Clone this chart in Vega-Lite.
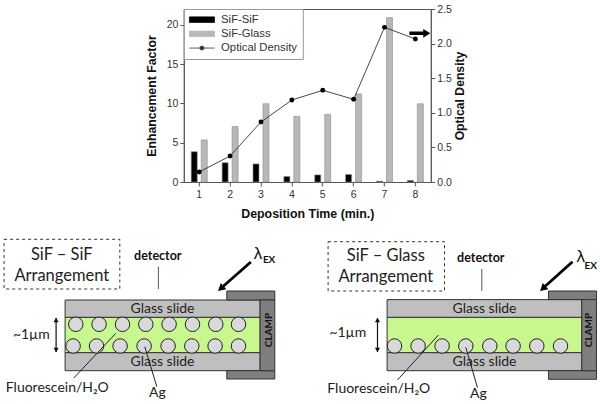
{
"$schema":"https://vega.github.io/schema/vega-lite/v6.json",
"padding":{"left":2.8,"top":3,"right":0,"bottom":0},
"background":"white",
"bounds":"flush",
"spacing":0,
"config":{"font":"Liberation Sans","view":{"stroke":null},"concat":{"spacing":0}},
"datasets":{
"bars":[
{"t":1,"series":"SiF-SiF","value":3.85},{"t":2,"series":"SiF-SiF","value":2.45},{"t":3,"series":"SiF-SiF","value":2.3},{"t":4,"series":"SiF-SiF","value":0.7},{"t":5,"series":"SiF-SiF","value":0.9},{"t":6,"series":"SiF-SiF","value":0.95},{"t":7,"series":"SiF-SiF","value":0.1},{"t":8,"series":"SiF-SiF","value":0.2},
{"t":1,"series":"SiF-Glass","value":5.35},{"t":2,"series":"SiF-Glass","value":7.05},{"t":3,"series":"SiF-Glass","value":9.95},{"t":4,"series":"SiF-Glass","value":8.35},{"t":5,"series":"SiF-Glass","value":8.6},{"t":6,"series":"SiF-Glass","value":11.2},{"t":7,"series":"SiF-Glass","value":20.9},{"t":8,"series":"SiF-Glass","value":9.95}],
"od":[{"t":1,"od":0.145},{"t":2,"od":0.376},{"t":3,"od":0.867},{"t":4,"od":1.185},{"t":5,"od":1.325},{"t":6,"od":1.195},{"t":7,"od":2.235},{"t":8,"od":2.067}],
"marker":[{"t":8,"od":2.149}],
"regions":[
{"part":"water","x":64.3,"x2":259.3,"y":317.3,"y2":352.7},
{"part":"glass","x":64.3,"x2":259.3,"y":300,"y2":317.3},
{"part":"glass","x":64.3,"x2":259.3,"y":352.7,"y2":370.7},
{"part":"clamp","x":226,"x2":274,"y":291,"y2":300},
{"part":"clamp","x":226,"x2":274,"y":370.7,"y2":379},
{"part":"clamp","x":259.3,"x2":274,"y":300,"y2":370.7},
{"part":"water","x":386.3,"x2":581,"y":317.3,"y2":352.7},
{"part":"glass","x":386.3,"x2":581,"y":299.6,"y2":317.3},
{"part":"glass","x":386.3,"x2":581,"y":352.7,"y2":370.7},
{"part":"clamp","x":547.7,"x2":595.7,"y":291,"y2":299.6},
{"part":"clamp","x":547.7,"x2":595.7,"y":370.7,"y2":379.3},
{"part":"clamp","x":581,"x2":595.7,"y":299.6,"y2":370.7}],
"boxes":[{"x":3.3,"x2":119,"y":239.3,"y2":289},{"x":327.3,"x2":443.7,"y":241.7,"y2":291}],
"silver":[
{"x":75,"y":324.3},{"x":98.3,"y":324.3},{"x":121.7,"y":324.3},{"x":145,"y":324.3},{"x":168.3,"y":324.3},{"x":191.7,"y":324.3},{"x":215,"y":324.3},{"x":237.7,"y":324.3},
{"x":72.3,"y":346},{"x":95.7,"y":346},{"x":119.3,"y":346},{"x":143.3,"y":346},{"x":167.3,"y":346},{"x":191,"y":346},{"x":214.3,"y":346},{"x":237.7,"y":346},
{"x":393.7,"y":346},{"x":417.3,"y":346},{"x":441.3,"y":346},{"x":465,"y":346},{"x":489,"y":346},{"x":512.3,"y":346},{"x":536,"y":346},{"x":559.7,"y":346}],
"links":[
{"kind":"leader","x":115,"x2":73,"y":333.3,"y2":378},
{"kind":"leader","x":144,"x2":156,"y":346.7,"y2":386.7},
{"kind":"leader","x":437.7,"x2":396.7,"y":335,"y2":380},
{"kind":"leader","x":465,"x2":476.7,"y":347.3,"y2":387.7},
{"kind":"detector","x":157.6,"x2":157.6,"y":266.7,"y2":289},
{"kind":"detector","x":481,"x2":481,"y":269,"y2":291},
{"kind":"gap","x":55.3,"x2":55.3,"y":318,"y2":352},
{"kind":"gap","x":376.7,"x2":376.7,"y":318,"y2":352},
{"kind":"beam","x":250,"x2":221,"y":262,"y2":287.5},
{"kind":"beam","x":571.7,"x2":543,"y":261.7,"y2":287.5}],
"heads":[
{"kind":"gap","x":55.3,"y":320,"angle":0},{"kind":"gap","x":55.3,"y":350,"angle":180},
{"kind":"gap","x":376.7,"y":320,"angle":0},{"kind":"gap","x":376.7,"y":350,"angle":180},
{"kind":"beam","x":220,"y":288.5,"angle":229},{"kind":"beam","x":542,"y":288.5,"angle":229}],
"labels":[
{"role":"title","text":"SiF – SiF","x":61,"y":255},
{"role":"title","text":"Arrangement","x":61,"y":276},
{"role":"title","text":"SiF – Glass","x":385,"y":256},
{"role":"title","text":"Arrangement","x":385,"y":276.7},
{"role":"detector","text":"detector","x":157,"y":256},
{"role":"detector","text":"detector","x":480,"y":257.7},
{"role":"slide","text":"Glass slide","x":161.7,"y":309},
{"role":"slide","text":"Glass slide","x":161.7,"y":362},
{"role":"slide","text":"Glass slide","x":483.7,"y":309.3},
{"role":"slide","text":"Glass slide","x":483.7,"y":361.7},
{"role":"slide","text":"~1µm","x":30.5,"y":335},
{"role":"slide","text":"~1µm","x":347,"y":333},
{"role":"slide","text":"Fluorescein/H₂O","x":56.5,"y":387.7},
{"role":"slide","text":"Fluorescein/H₂O","x":378,"y":389},
{"role":"slide","text":"Ag","x":156.7,"y":393},
{"role":"slide","text":"Ag","x":477.7,"y":394},
{"role":"lambda","text":"λ","x":257.3,"y":254},
{"role":"lambda","text":"λ","x":580,"y":256.7},
{"role":"ex","text":"EX","x":268.3,"y":260},
{"role":"ex","text":"EX","x":590,"y":265.7},
{"role":"clamp","text":"CLAMP","x":268,"y":330},
{"role":"clamp","text":"CLAMP","x":588.3,"y":330}]
},
"vconcat":[
 {"width":247,"height":173,
  "view":{"stroke":"#555555"},
  "encoding":{"x":{"field":"t","type":"ordinal","scale":{"padding":0},"axis":{"title":"Deposition Time (min.)","labelAngle":0,"labelFontSize":10.5,"labelColor":"#333333","titleFontSize":12.4,"titleFontWeight":"bold","titleColor":"#111111","titlePadding":8,"tickColor":"#555555","domainColor":"#555555","tickSize":4,"labelPadding":3}}},
  "layer":[
   {"data":{"name":"bars"},
    "mark":{"type":"bar","stroke":"#8a8a8a","strokeWidth":0.6},
    "encoding":{
     "xOffset":{"field":"series","type":"nominal","sort":["SiF-SiF","SiF-Glass"],"scale":{"domain":["SiF-SiF","SiF-Glass"],"paddingInner":0.4,"paddingOuter":0.745}},
     "y":{"field":"value","type":"quantitative","scale":{"domain":[0,22],"nice":false},"axis":{"title":"Enhancement Factor","values":[0,5,10,15,20],"grid":false,"labelFontSize":10.5,"labelColor":"#333333","titleFontSize":12.3,"titleFontWeight":"bold","titleColor":"#111111","titlePadding":8,"tickColor":"#555555","domainColor":"#555555","tickSize":4}},
     "color":{"field":"series","type":"nominal","scale":{"domain":["SiF-SiF","SiF-Glass","Optical Density"],"range":["#000000","#b8b8b8","#333333"]},
      "legend":{"title":null,"orient":"none","legendX":0,"legendY":0,"fillColor":"white","strokeColor":"#999999","padding":5,"symbolSize":100,"labelFontSize":11.3,"labelColor":"#333333","labelOffset":21,"rowPadding":2.2,
       "encoding":{"symbols":{
        "shape":{"value":{"expr":"datum.value==='Optical Density' ? 'M-1,0H4M1.1,0A0.4,0.4 0 1,0 1.9,0A0.4,0.4 0 1,0 1.1,0Z' : 'M-1,-0.55H4V0.55H-1Z'"}},
        "fill":{"value":{"expr":"datum.value==='SiF-Glass' ? '#b8b8b8' : '#000000'"}},
        "stroke":{"value":{"expr":"datum.value==='SiF-Glass' ? '#8a8a8a' : (datum.value==='SiF-SiF' ? '#000000' : '#333333')"}},
        "strokeWidth":{"value":0.8},"opacity":{"value":1},"fillOpacity":{"value":1}}}}}
    }},
   {"encoding":{"y":{"field":"od","type":"quantitative","scale":{"domain":[0,2.5],"nice":false},"axis":{"orient":"right","title":"Optical Density","titleAngle":270,"values":[0,0.5,1,1.5,2,2.5],"format":".1f","grid":false,"labelFontSize":10.5,"labelColor":"#333333","titleFontSize":12.2,"titleFontWeight":"bold","titleColor":"#111111","titlePadding":15,"tickColor":"#555555","domainColor":"#555555","tickSize":4}}},
    "layer":[
     {"data":{"name":"od"},"mark":{"type":"line","strokeWidth":0.9},"encoding":{"color":{"datum":"Optical Density"}}},
     {"data":{"name":"od"},"mark":{"type":"point","filled":true,"color":"#000000","size":24,"opacity":1}},
     {"data":{"name":"marker"},"mark":{"type":"point","filled":true,"color":"#000000","opacity":1,"size":441,"shape":"M-0.57,-0.17H0.75V-0.42L1.43,0L0.75,0.42V0.17H-0.57Z"}}
    ]}
  ],
  "resolve":{"scale":{"y":"independent"}}
 },
{"width":247,"height":222,
 "encoding":{
  "x":{"field":"x","type":"quantitative","scale":{"domain":[0,600],"range":[-183,417],"nice":false,"zero":false},"axis":null},
  "y":{"field":"y","type":"quantitative","scale":{"domain":[182,404],"range":[0,222],"nice":false,"zero":false},"axis":null}},
 "layer":[
  {"data":{"name":"boxes"},"mark":{"type":"rect","fill":"white","stroke":"#333333","strokeWidth":1,"strokeDash":[3,3]},"encoding":{"x2":{"field":"x2"},"y2":{"field":"y2"}}},
  {"data":{"name":"regions"},"mark":{"type":"rect","stroke":"#333333","strokeWidth":1},"encoding":{"x2":{"field":"x2"},"y2":{"field":"y2"},
    "fill":{"field":"part","type":"nominal","legend":null,"scale":{"domain":["water","glass","clamp"],"range":["#c9f78f","#bfbfbf","#7f7f7f"]}}}},
  {"data":{"name":"silver"},"mark":{"type":"point","shape":"circle","filled":false,"fill":"#d9d9d9","stroke":"#222222","strokeWidth":1,"size":210,"opacity":1}},
  {"data":{"name":"links"},"transform":[{"filter":"datum.kind==='leader'"}],"mark":{"type":"rule","color":"#222222","strokeWidth":1},"encoding":{"x2":{"field":"x2"},"y2":{"field":"y2"}}},
  {"data":{"name":"links"},"transform":[{"filter":"datum.kind==='detector'"}],"mark":{"type":"rule","color":"#555555","strokeWidth":1},"encoding":{"x2":{"field":"x2"},"y2":{"field":"y2"}}},
  {"data":{"name":"links"},"transform":[{"filter":"datum.kind==='gap'"}],"mark":{"type":"rule","color":"#111111","strokeWidth":1.2},"encoding":{"x2":{"field":"x2"},"y2":{"field":"y2"}}},
  {"data":{"name":"links"},"transform":[{"filter":"datum.kind==='beam'"}],"mark":{"type":"rule","color":"#000000","strokeWidth":2.8},"encoding":{"x2":{"field":"x2"},"y2":{"field":"y2"}}},
  {"data":{"name":"heads"},"transform":[{"filter":"datum.kind==='gap'"}],"mark":{"type":"point","shape":"triangle-up","filled":true,"color":"#111111","size":26,"opacity":1},"encoding":{"angle":{"field":"angle","type":"quantitative","scale":{"domain":[0,360],"range":[0,360]}}}},
  {"data":{"name":"heads"},"transform":[{"filter":"datum.kind==='beam'"}],"mark":{"type":"point","shape":"triangle-up","filled":true,"color":"#000000","size":70,"opacity":1},"encoding":{"angle":{"field":"angle","type":"quantitative","scale":{"domain":[0,360],"range":[0,360]}}}},
  {"data":{"name":"labels"},"transform":[{"filter":"datum.role==='title'"}],"mark":{"type":"text","font":"Lato","fontSize":16.5,"color":"#222222","baseline":"middle"},"encoding":{"text":{"field":"text"}}},
  {"data":{"name":"labels"},"transform":[{"filter":"datum.role==='slide'"}],"mark":{"type":"text","font":"Lato","fontSize":14,"color":"#222222","baseline":"middle"},"encoding":{"text":{"field":"text"}}},
  {"data":{"name":"labels"},"transform":[{"filter":"datum.role==='detector'"}],"mark":{"type":"text","font":"Lato","fontSize":12.5,"fontWeight":"bold","color":"#111111","baseline":"middle"},"encoding":{"text":{"field":"text"}}},
  {"data":{"name":"labels"},"transform":[{"filter":"datum.role==='lambda'"}],"mark":{"type":"text","font":"Liberation Sans","fontSize":17,"color":"#111111","baseline":"middle"},"encoding":{"text":{"field":"text"}}},
  {"data":{"name":"labels"},"transform":[{"filter":"datum.role==='ex'"}],"mark":{"type":"text","font":"Lato","fontSize":10,"fontWeight":"bold","color":"#111111","baseline":"middle"},"encoding":{"text":{"field":"text"}}},
  {"data":{"name":"labels"},"transform":[{"filter":"datum.role==='clamp'"}],"mark":{"type":"text","font":"Lato","fontSize":10,"fontWeight":"bold","color":"#111111","baseline":"middle","angle":270},"encoding":{"text":{"field":"text"}}}
 ]
}
]
}
